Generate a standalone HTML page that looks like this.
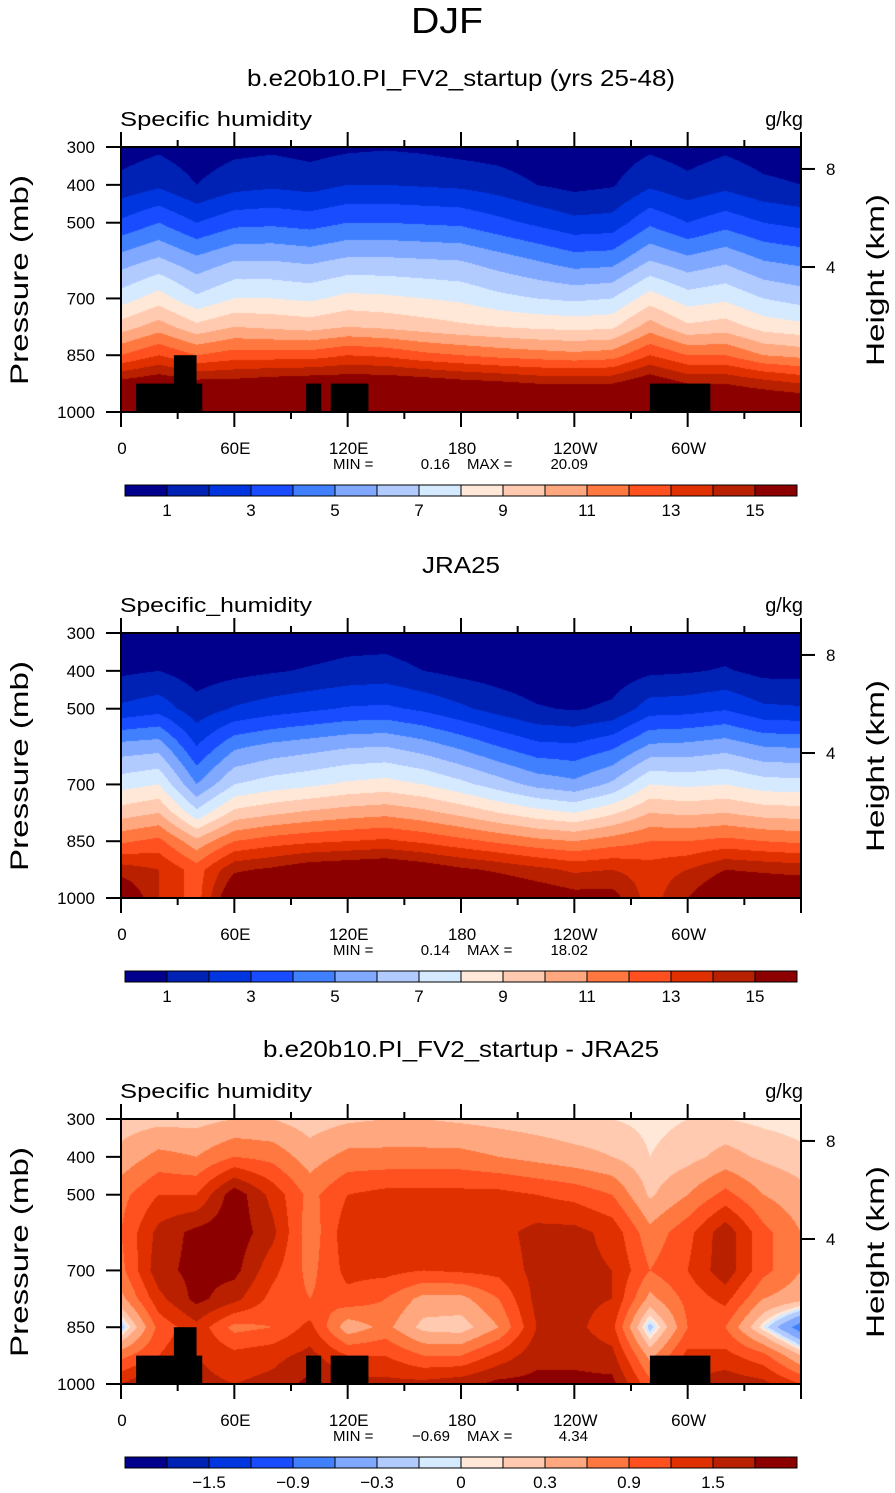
<!DOCTYPE html>
<html><head><meta charset="utf-8">
<style>
html,body{margin:0;padding:0;background:#fff;}
#wrap{position:relative;width:895px;height:1493px;overflow:hidden;background:#fff;}
canvas{position:absolute;}
svg{position:absolute;left:0;top:0;}
text{font-family:"Liberation Sans",sans-serif;fill:#000;}
</style></head>
<body>
<div id="wrap">
<canvas id="c0" width="680" height="265" style="left:121px;top:147px"></canvas>
<canvas id="c1" width="680" height="265" style="left:121px;top:633px"></canvas>
<canvas id="c2" width="680" height="265" style="left:121px;top:1119px"></canvas>
<svg id="ov" width="895" height="1493">
<text x="447" y="33" text-anchor="middle" font-size="36" textLength="72" lengthAdjust="spacingAndGlyphs">DJF</text>
</svg>
</div>
<script>
const lons=[0,20,40,60,80,100,120,140,160,180,200,220,240,260,280,300,320,340,360];
const levels=[300,400,500,600,700,775,850,925,1000];
const modelQ=[
[0.5,1.3,3.2,5.5,7.5,9.5,12,15.5,17],
[0.8,1.8,4,6.2,8.5,10.5,13,16,17],
[0.4,1.0,3,5.3,7.2,9.3,12,15.5,17],
[0.7,1.6,3.7,6,8,10,12.5,15.5,17],
[0.8,1.8,3.8,6,8,9.8,12.5,15.8,17],
[0.6,1.6,3.6,5.8,7.8,9.6,12.5,16,17],
[0.8,2,4,6.2,8.3,10,13,16,17],
[0.9,2,4,6.2,8.2,9.8,12.8,16,17],
[0.8,1.9,3.9,6.1,8,9.5,12.3,15.8,17],
[0.6,1.8,3.8,6.0,7.8,9.2,12,15.5,17],
[0.5,1.5,3.3,5.5,7.3,9,11.7,15.3,17],
[0.3,1.0,2.8,5,7,8.8,11.5,15,17],
[0.3,0.7,2.3,4.5,6.8,8.7,11.3,15,17],
[0.4,0.9,2.4,4.6,7,8.8,11.5,15,17],
[0.8,1.8,3.8,6,8.5,10.5,13,16,17],
[0.5,1.3,3,5.3,7.5,9.2,12,15,17],
[0.8,1.7,3.6,5.8,7.8,9.5,12,15,17],
[0.5,1.2,3,5,7,8.6,11,14.5,17],
[0.4,1,2.7,4.7,6.6,8.3,10.7,14,17]];
const jraQ=[
[0.2,0.8,2.2,5.4,7.6,9.5,11.8,14.5,16.5],
[0.3,1.0,2.6,5.6,8,10,12.3,14,14],
[0.1,0.5,1.4,3,5,7.3,10.3,12.5,12.5],
[0.2,0.7,2.1,4.8,7,9.3,12,14.8,16.5],
[0.3,0.9,2.5,5.3,7.5,9.8,12.5,15.2,17],
[0.3,1.1,2.8,5.6,7.8,10.2,12.8,15.8,17],
[0.5,1.3,3.1,5.9,8.2,10.5,13,16,17],
[0.5,1.4,3.2,6,8.4,10.7,13.2,16.2,17],
[0.3,1.0,2.8,5.5,8,10.3,12.8,15.8,17],
[0.2,0.7,2.2,4.8,7.3,9.7,12.3,15.2,17],
[0.1,0.5,1.6,4,6.5,9,11.8,14.8,16.5],
[0.1,0.3,1.1,3.3,5.7,8.4,11.3,14.3,16],
[0.1,0.3,0.9,3.2,5.3,8,11,13.8,15.5],
[0.1,0.4,1.2,3.8,6.2,8.8,11.5,14,15.5],
[0.2,0.8,2.5,5.2,8,10,12,13.5,13.5],
[0.2,0.9,2.6,5.3,7.8,9.8,12,14,15],
[0.3,1.1,2.9,5.6,8,10,12.3,15,16.5],
[0.1,0.7,2.2,5,7.5,9.6,12,14.8,16.5],
[0.1,0.7,2.1,4.9,7.4,9.5,11.8,14.6,16.5]];
const diffQ=[
[0.15,0.4,0.8,0.9,0.8,0.5,-0.2,0.8,1.5],
[0.2,0.7,1.2,1.6,1.7,1.4,1.0,1.2,1.9],
[0.2,0.6,1.2,1.9,1.9,1.9,1.4,1.5,1.6],
[0.3,0.9,2.0,2.0,1.9,1.6,0.8,1.3,1.5],
[0.3,0.8,1.4,1.6,1.3,1.1,0.9,1.4,1.6],
[0.15,0.45,0.8,0.7,0.8,0.9,1.3,1.6,1.9],
[0.25,0.7,1.2,1.4,1.3,1.1,0.4,1.2,1.6],
[0.3,0.7,1.3,1.4,1.3,0.9,0.7,1.2,1.6],
[0.3,0.7,1.3,1.4,1.2,0.5,0.2,0.9,1.6],
[0.25,0.7,1.3,1.4,1.25,0.5,0.15,0.9,1.7],
[0.2,0.6,1.3,1.4,1.3,0.9,0.6,1.3,1.9],
[0.15,0.5,1.2,1.6,1.6,1.6,1.5,1.7,1.9],
[0.1,0.4,1.1,1.6,1.6,1.6,1.6,1.7,1.9],
[0.1,0.3,0.9,1.4,1.5,1.5,1.3,1.6,1.9],
[0.05,0.1,0.25,0.7,0.9,0.5,-0.2,0.5,1.0],
[0.1,0.2,0.6,1.1,1.2,1.0,0.9,1.3,1.5],
[0.1,0.4,1.0,1.7,1.7,1.3,0.9,1.3,1.7],
[0.05,0.25,0.6,1.0,1.0,0.6,0.0,1.0,1.6],
[0.02,0.15,0.4,0.6,0.6,0.4,-0.8,0.3,1.2]];
const qBounds=[1,2,3,4,5,6,7,8,9,10,11,12,13,14,15];
const diffBounds=[-1.8,-1.5,-1.2,-0.9,-0.6,-0.3,-0.1,0,0.1,0.3,0.6,0.9,1.2,1.5,1.8];
const palette=['#00008c','#0022b4','#0036e0','#1a4cff','#4080ff','#80a8ff','#b2cbff','#d6eaff','#ffe8d8','#ffcab0','#ffa880','#ff7840','#ff5020','#e03000','#b82000','#8c0000'];
const qLabels=['1','3','5','7','9','11','13','15'];
const qLabelIdx=[0,2,4,6,8,10,12,14];
const diffLabels=['\u22121.5','\u22120.9','\u22120.3','0','0.3','0.9','1.5'];
const diffLabelIdx=[1,3,5,7,9,11,13];
const pTicks=[300,400,500,700,850,1000];
const lonTicks=[0,60,120,180,240,300];
const lonTickLabels=['0','60E','120E','180','120W','60W'];
const heightTicks=[8,4];
const heightTickP=[358,617];
const titles=['b.e20b10.PI_FV2_startup (yrs 25-48)','JRA25','b.e20b10.PI_FV2_startup - JRA25'];
const varNames=['Specific humidity','Specific_humidity','Specific humidity'];
const minVals=['0.16','0.14','\u22120.69'];
const maxVals=['20.09','18.02','4.34'];
const showTopo=[true,false,true];
const topoLon0=[8,28,98,111,280];
const topoLon1=[43,40,106,131,312];
const topoPtop=[925,850,925,925,925];

const X0=121,W=680,H=265;
function xS(lon){return X0+lon/360*W;}
function yS(p,top){return top+(p-300)/700*H;}
function hex(c){return [parseInt(c.substr(1,2),16),parseInt(c.substr(3,2),16),parseInt(c.substr(5,2),16)];}
const rgb=palette.map(hex);
function sample(f,lon,p){
  let i=Math.min(Math.floor(lon/20),lons.length-2);
  let tx=(lon-lons[i])/(lons[i+1]-lons[i]);
  let j=0;while(j<levels.length-2&&p>levels[j+1])j++;
  let ty=(p-levels[j])/(levels[j+1]-levels[j]);
  const a=f[i][j]*(1-ty)+f[i][j+1]*ty, b=f[i+1][j]*(1-ty)+f[i+1][j+1]*ty;
  return a*(1-tx)+b*tx;
}
function band(v,bounds){let k=0;while(k<bounds.length&&v>=bounds[k])k++;return k;}
function drawField(id,f,bounds){
  const cv=document.getElementById(id),ctx=cv.getContext('2d');
  const img=ctx.createImageData(W,H);
  for(let y=0;y<H;y++){const p=300+(y+0.5)/H*700;
    for(let x=0;x<W;x++){const lon=(x+0.5)/W*360;
      const c=rgb[band(sample(f,lon,p),bounds)];const o=(y*W+x)*4;
      img.data[o]=c[0];img.data[o+1]=c[1];img.data[o+2]=c[2];img.data[o+3]=255;}}
  ctx.putImageData(img,0,0);
}
drawField('c0',modelQ,qBounds);
drawField('c1',jraQ,qBounds);
drawField('c2',diffQ,diffBounds);

const NS='http://www.w3.org/2000/svg',svg=document.getElementById('ov');
function mk(tag,at){const e=document.createElementNS(NS,tag);for(const k in at)e.setAttribute(k,at[k]);svg.appendChild(e);return e;}
function txt(x,y,s,size,anchor){const e=mk('text',{x:x,y:y,'font-size':size,'text-anchor':anchor||'start'});e.textContent=s;return e;}

const tops=[147,633,1119];
const titleY=[86,573,1057];
const titleLen=[428,78,396];
for(let k=0;k<3;k++){
  const T=tops[k];
  let e=txt(461,titleY[k],titles[k],23,'middle');
  e.setAttribute('textLength',titleLen[k]);
  e.setAttribute('lengthAdjust','spacingAndGlyphs');
  
  
  e=txt(120,T-21,varNames[k],20);
  e.setAttribute('textLength',192);
  e.setAttribute('lengthAdjust','spacingAndGlyphs');
  
  
  e=txt(803,T-21,'g/kg',20,'end');
  
  
  e=mk('rect',{x:X0,y:T,width:W,height:H,fill:'none',stroke:'#000','stroke-width':2});
  
  
  if(showTopo[k]){
    for(let b=0;b<topoLon0.length;b++){
      const x0=xS(topoLon0[b]),x1=xS(topoLon1[b]),y0=yS(topoPtop[b],T);
      e=mk('rect',{x:x0,y:y0,width:x1-x0,height:T+H-y0,fill:'#000'});
      
      
    }
  }
  for(let lon=0;lon<=360;lon+=30){
    const x=xS(lon),len=(lon%60===0)?15:7;
    e=mk('line',{x1:x,x2:x,y1:T-len,y2:T,stroke:'#000','stroke-width':2});
    
    
    e=mk('line',{x1:x,x2:x,y1:T+H,y2:T+H+len,stroke:'#000','stroke-width':2});
    
    
  }
  for(let i=0;i<lonTicks.length;i++){
    e=txt(xS(lonTicks[i])+1,T+H+42,lonTickLabels[i],17,'middle');
    
    
  }
  for(let i=0;i<pTicks.length;i++){
    const y=yS(pTicks[i],T);
    e=mk('line',{x1:X0-15,x2:X0,y1:y,y2:y,stroke:'#000','stroke-width':2});
    
    
    e=txt(95,y+6,String(pTicks[i]),17,'end');
    
    
  }
  for(let i=0;i<heightTicks.length;i++){
    const y=yS(heightTickP[i],T);
    e=mk('line',{x1:X0+W,x2:X0+W+14,y1:y,y2:y,stroke:'#000','stroke-width':2});
    
    
    e=txt(826,y+6,String(heightTicks[i]),17);
    
    
  }
  e=txt(0,0,'Pressure (mb)',25,'middle');
  e.setAttribute('transform','translate(28,'+(T+133)+') rotate(-90)');
  e.setAttribute('textLength',210);
  e.setAttribute('lengthAdjust','spacingAndGlyphs');
  
  
  e=txt(0,0,'Height (km)',25,'middle');
  e.setAttribute('transform','translate(884,'+(T+133)+') rotate(-90)');
  e.setAttribute('textLength',172);
  e.setAttribute('lengthAdjust','spacingAndGlyphs');
  
  
  e=txt(333,T+322,'MIN =',15);
  
  
  e=txt(450,T+322,minVals[k],15,'end');
  
  
  e=txt(467,T+322,'MAX =',15);
  
  
  e=txt(588,T+322,maxVals[k],15,'end');
  
  
  const cy=T+338,cw=42;
  for(let i=0;i<palette.length;i++){
    e=mk('rect',{x:125+i*cw,y:cy,width:cw,height:11,fill:palette[i],stroke:'#000','stroke-width':1});
    
    
  }
  const labs=k<2?qLabels:diffLabels, idx=k<2?qLabelIdx:diffLabelIdx;
  for(let i=0;i<labs.length;i++){
    e=txt(125+(idx[i]+1)*cw,cy+31,labs[i],17,'middle');
    
    
  }
}
</script>
</body></html>
